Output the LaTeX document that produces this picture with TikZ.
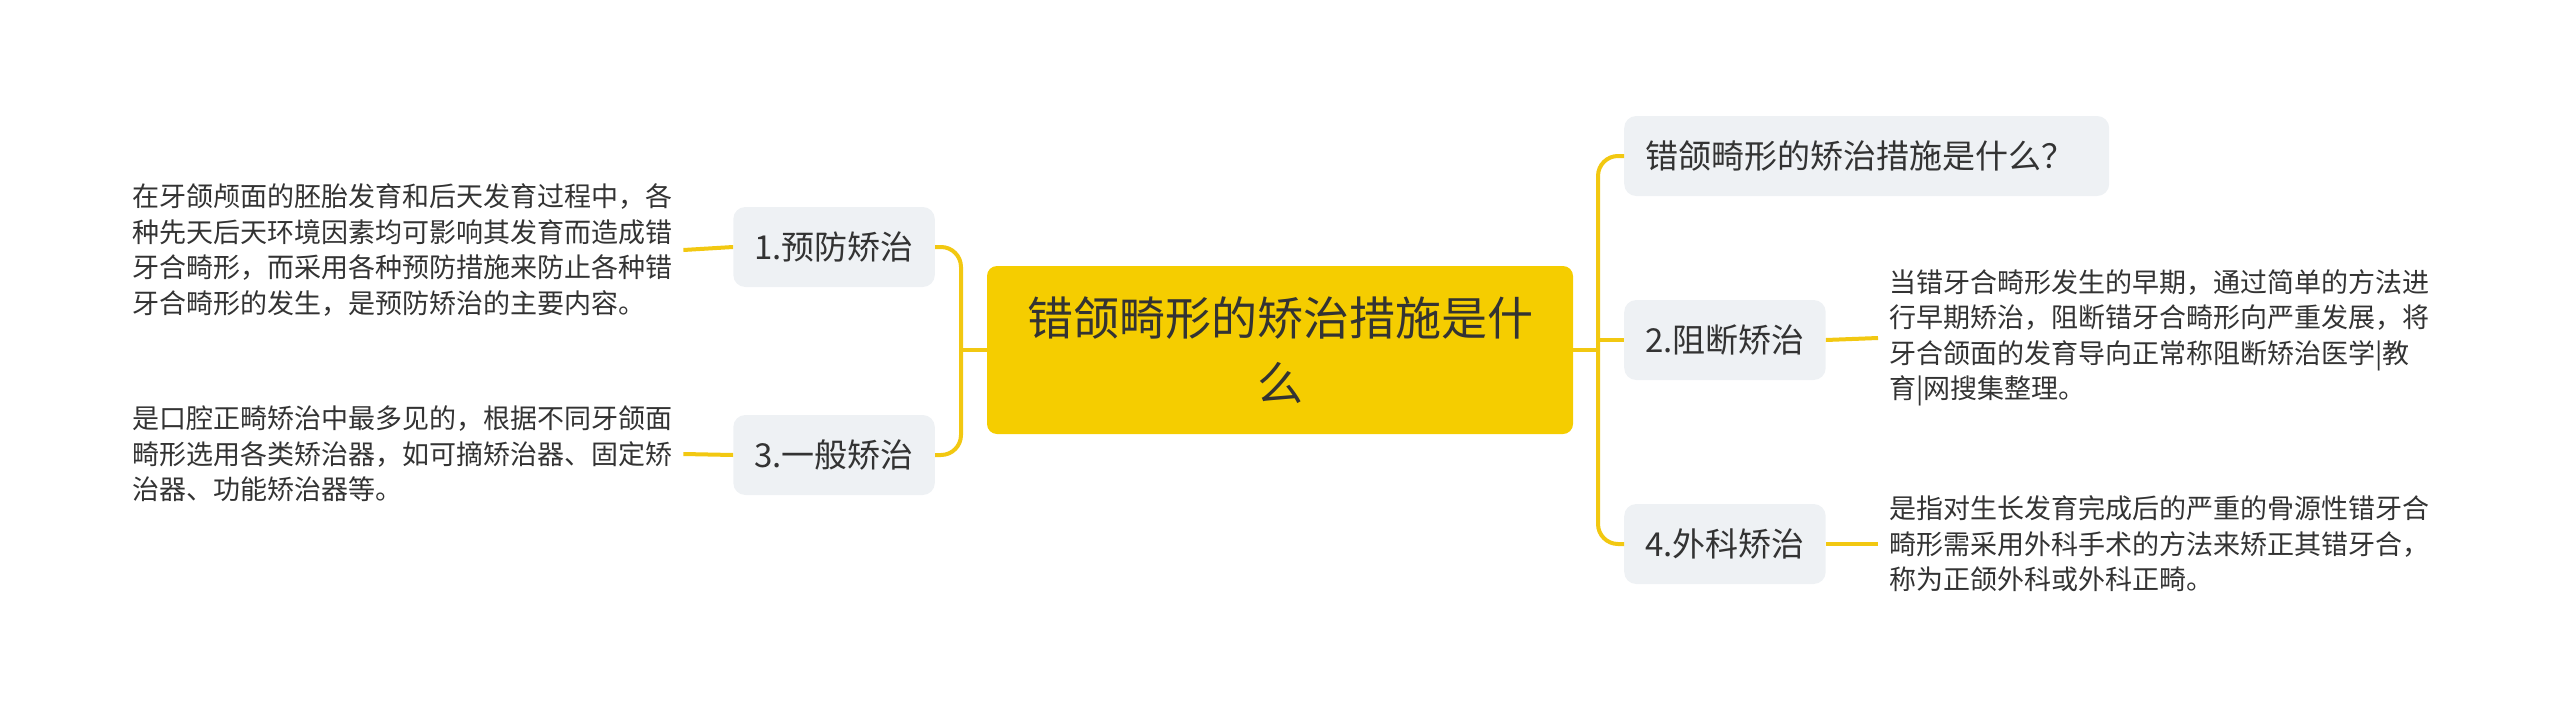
\documentclass[tikz,border=0pt]{standalone}
\usepackage{fontspec}
\setmainfont{Noto Sans CJK SC}
\usetikzlibrary{positioning}
\definecolor{rootyellow}{HTML}{F5CD00}
\definecolor{linkyellow}{HTML}{F2C811}
\definecolor{topicgray}{HTML}{EEF1F4}
\definecolor{inkgray}{HTML}{333333}

\begin{document}
\begin{tikzpicture}[x=1pt, y=-1pt,
  root/.style={rectangle, rounded corners=10pt, fill=rootyellow, minimum width=586pt, minimum height=168pt, text centered, align=center, text=inkgray, font=\fontsize{46pt}{65pt}\selectfont},
  topic/.style={rectangle, rounded corners=12pt, fill=topicgray, minimum height=80pt, inner xsep=21pt, text=inkgray, font=\fontsize{33pt}{40pt}\selectfont},
  leaf/.style={align=left, inner xsep=11pt, inner ysep=0pt, text=inkgray, font=\fontsize{27pt}{35.5pt}\selectfont},
  link/.style={draw=linkyellow, line width=4pt}
]
  \useasboundingbox (0,0) rectangle (2560,726);

  \node[root] (root) at (1280,350) {错颌畸形的矫治措施是什\\么};

  % left side
  \node[topic, anchor=east] (prevent) at (935,247) {1.预防矫治};
  \node[topic, anchor=east] (general) at (935,455) {3.一般矫治};
  \node[leaf, anchor=west] (preventtxt) at (121,250) {在牙颌颅面的胚胎发育和后天发育过程中，各\\种先天后天环境因素均可影响其发育而造成错\\牙合畸形，而采用各种预防措施来防止各种错\\牙合畸形的发生，是预防矫治的主要内容。};
  \node[leaf, anchor=west] (generaltxt) at (121,454) {是口腔正畸矫治中最多见的，根据不同牙颌面\\畸形选用各类矫治器，如可摘矫治器、固定矫\\治器、功能矫治器等。};

  % right side
  \node[topic, anchor=west, text width=443pt, align=left] (question) at (1624,156) {错颌畸形的矫治措施是什么？};
  \node[topic, anchor=west] (block) at (1624,340) {2.阻断矫治};
  \node[topic, anchor=west] (surgery) at (1624,544) {4.外科矫治};
  \node[leaf, anchor=west] (blocktxt) at (1878,338) {当错牙合畸形发生的早期，通过简单的方法进\\行早期矫治，阻断错牙合畸形向严重发展，将\\牙合颌面的发育导向正常称阻断矫治医学|教\\育|网搜集整理。};
  \node[leaf, anchor=west] (surgerytxt) at (1878,544) {是指对生长发育完成后的严重的骨源性错牙合\\畸形需采用外科手术的方法来矫正其错牙合，\\称为正颌外科或外科正畸。};

  \coordinate (ljoin) at (961,350);
  \coordinate (rjoin) at (1598,350);

  \draw[link, rounded corners=20pt] (prevent.east) -| (ljoin) |- (general.east);
  \draw[link] (ljoin) -- (root.west);
  \draw[link] (root.east) -- (rjoin);
  \draw[link, rounded corners=20pt] (rjoin) |- (question.west);
  \draw[link, rounded corners=20pt] (rjoin) |- (surgery.west);
  \draw[link] (rjoin |- block.west) -- (block.west);

  \draw[link] (preventtxt.east) -- (prevent.west);
  \draw[link] (generaltxt.east) -- (general.west);
  \draw[link] (block.east) -- (blocktxt.west);
  \draw[link] (surgery.east) -- (surgerytxt.west);
\end{tikzpicture}
\end{document}
